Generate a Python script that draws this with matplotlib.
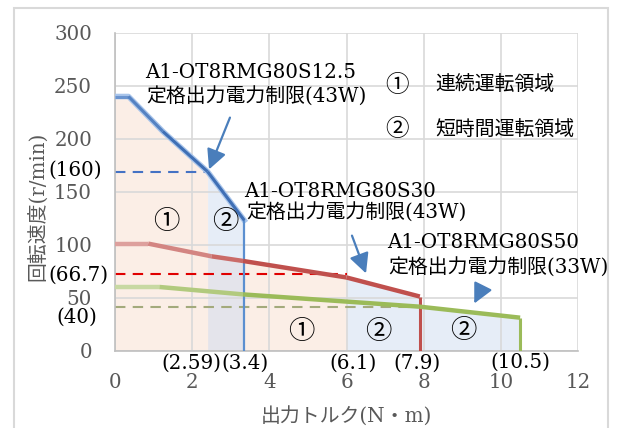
import matplotlib
matplotlib.use("Agg")
import matplotlib.pyplot as plt
from matplotlib.collections import LineCollection
from matplotlib.patches import Rectangle
import numpy as np

plt.rcParams['font.family'] = ['DejaVu Serif', 'Noto Sans CJK JP']

# ---------------- data ----------------
blue_x = [0, 0.35, 1.24, 2.4, 3.35]
blue_y = [240, 240, 207, 169, 123]
red_x = [0, 0.86, 2.5, 3.32, 6.0, 7.9]
red_y = [101, 101, 89, 84.6, 69, 51]
green_x = [0, 1.16, 3.32, 7.9, 10.5]
green_y = [60, 60, 53, 41.4, 31]

blue_cont_end, red_cont_end, green_cont_end = 2.4, 6.0, 7.9
blue_rated, red_rated, green_rated = 169, 72, 41

x_ticks = [0, 2, 4, 6, 8, 10, 12]
y_ticks = [0, 50, 100, 150, 200, 250, 300]

model_labels = ["A1-OT8RMG80S12.5", "A1-OT8RMG80S30", "A1-OT8RMG80S50"]
limit_labels = ["定格出力電力制限(43W)", "定格出力電力制限(43W)", "定格出力電力制限(33W)"]
legend_marks = ["①", "②"]
legend_texts = ["連続運転領域", "短時間運転領域"]
x_notes = ["(2.59)", "(3.4)", "(6.1)", "(7.9)", "(10.5)"]
y_notes = ["(160)", "(66.7)", "(40)"]
xlabel = "出力トルク(N・m)"
ylabel = "回転速度(r/min)"

FS = 14.3

# ---------------- figure ----------------
W, H = 629, 428
fig = plt.figure(figsize=(W / 100, H / 100), dpi=100)
L, R, T, B = 115, 578, 33, 350.5
ax = fig.add_axes([L / W, 1 - B / H, (R - L) / W, (B - T) / H])
ax.set_xlim(0, 12)
ax.set_ylim(0, 300)

# outer chart frame
fig.patches.append(Rectangle((14 / W, -0.01), (607.5 - 14) / W, 1 - 8 / H + 0.01,
                             transform=fig.transFigure, fill=False,
                             edgecolor='#D9D9D9', lw=1.5, zorder=0))

peach = '#FBEEE6'
lblue = '#CFDCF1'

def seg(xs, ys, a, b):
    px = [x for x in xs if a <= x <= b]
    py = [y for x, y in zip(xs, ys) if a <= x <= b]
    return px, py

# continuous regions (peach)
px, py = seg(blue_x, blue_y, 0, blue_cont_end)
ax.fill_between(px, py, 0, color=peach, lw=0, zorder=0.5)
px, py = seg(red_x, red_y, 0, red_cont_end)
ax.fill_between(px, py, 0, color=peach, lw=0, zorder=0.5)
# short-time regions (light blue)
px, py = seg(blue_x, blue_y, blue_cont_end, max(blue_x))
ax.fill_between(px, py, 0, color=lblue, alpha=0.5, lw=0, zorder=0.6)
px, py = seg(red_x, red_y, red_cont_end, max(red_x))
ax.fill_between(px, py, 0, color=lblue, alpha=0.5, lw=0, zorder=0.6)
px, py = seg(green_x, green_y, green_cont_end, max(green_x))
ax.fill_between(px, py, 0, color=lblue, alpha=0.5, lw=0, zorder=0.6)

# grid
ax.set_xticks(x_ticks)
ax.set_yticks(y_ticks)
ax.grid(True, color='#D9D9D9', lw=1.2)
for s in ['top', 'right']:
    ax.spines[s].set_visible(False)
for s in ['left', 'bottom']:
    ax.spines[s].set_color('#BFBFBF')
    ax.spines[s].set_linewidth(1.2)
ax.tick_params(length=0, labelsize=FS, labelcolor='#595959')
ax.tick_params(axis='y', pad=16.5)
ax.tick_params(axis='x', pad=16)

def grad_line(xs, ys, c0, c1, lw, z=3):
    pts = np.array([xs, ys]).T
    segs = [pts[i:i + 2] for i in range(len(pts) - 1)]
    n = len(segs)
    c0 = np.array(matplotlib.colors.to_rgb(c0))
    c1 = np.array(matplotlib.colors.to_rgb(c1))
    cols = [tuple(c0 + (c1 - c0) * min(1, i / max(1, n - 2))) for i in range(n)]
    ax.add_collection(LineCollection(segs, colors=cols, linewidths=lw,
                                     zorder=z, capstyle='butt', joinstyle='round'))

# rated dashed lines
ax.plot([0, blue_cont_end], [blue_rated] * 2, ls=(0, (5, 3.5)), color='#4472C4', lw=1.5, zorder=2.5)
ax.plot([0, red_cont_end], [red_rated] * 2, ls=(0, (5, 3.5)), color='#E00000', lw=1.5, zorder=2.5)
ax.plot([0, green_cont_end], [green_rated] * 2, ls=(0, (5, 3.5)), color='#A3AA7C', lw=1.5, zorder=2.5)

# curves
ax.plot(blue_x, blue_y, color='#A8C4EA', lw=4, zorder=3, solid_joinstyle='round')
grad_line(blue_x, blue_y, '#6A94CF', '#3F6FB5', 2.2, z=3.1)
ax.vlines(blue_x[-1], 0, blue_y[-1], color='#5B8FD0', lw=1.6, zorder=3)
grad_line(red_x, red_y, '#DDA09D', '#C0504D', 3.2)
ax.vlines(red_x[-1], 0, red_y[-1], color='#C0504D', lw=2.2, zorder=3)
grad_line(green_x, green_y, '#C8D9A3', '#9BBB59', 3.2)
ax.vlines(green_x[-1], 0, green_y[-1], color='#9BBB59', lw=2.2, zorder=3)

# axis labels
fig.text(346.5 / W, 1 - 416.7 / H, xlabel, ha='center', va='center', fontsize=FS, color='#595959')
fig.text(38 / W, 1 - 206 / H, ylabel, ha='center', va='center', rotation=90, fontsize=FS, color='#595959')

def px2d(px, py):
    return (px - L) / (R - L) * 12, (B - py) / (B - T) * 300

def ptext(px, py, s, ha='left', fs=FS, **kw):
    x, y = px2d(px, py)
    ax.text(x, y, s, ha=ha, va='center', fontsize=fs, color='black', clip_on=False, zorder=6, **kw)

# model annotations
ptext(145, 73, model_labels[0]); ptext(146, 97, limit_labels[0])
ptext(244, 191, model_labels[1]); ptext(246, 213, limit_labels[1])
ptext(387, 243, model_labels[2]); ptext(388, 268, limit_labels[2])

arrows = [((231, 115), (208, 172)), ((351, 233), (367, 276)), ((483, 286), (473, 306))]
for (sx, sy), (ex, ey) in arrows:
    ax.annotate('', xy=px2d(ex, ey), xytext=px2d(sx, sy),
                arrowprops=dict(arrowstyle='-|>,head_length=0.8,head_width=0.4',
                                mutation_scale=15, color='#4A7EBB', lw=1.6), zorder=7)

# legend
ptext(397, 85, legend_marks[0], ha='center', fs=17); ptext(435, 85, legend_texts[0])
ptext(397, 130, legend_marks[1], ha='center', fs=17); ptext(435, 130, legend_texts[1])

# region marks
MS = 19
ptext(166.7, 221.7, "①", ha='center', fs=MS); ptext(225, 221.7, "②", ha='center', fs=MS)
ptext(301.7, 331.7, "①", ha='center', fs=MS); ptext(378, 331.7, "②", ha='center', fs=MS)
ptext(463, 330, "②", ha='center', fs=MS)

# value notes
for (cx, cy), s in zip([(191.7, 363.3), (245, 363.3), (353, 363.3), (416.7, 363.3), (520, 362)], x_notes):
    ptext(cx, cy, s, ha='center')
for (cx, cy), s in zip([(75, 170), (78, 275), (77, 317.5)], y_notes):
    ptext(cx, cy, s, ha='center')

fig.savefig('out.png', dpi=100)
